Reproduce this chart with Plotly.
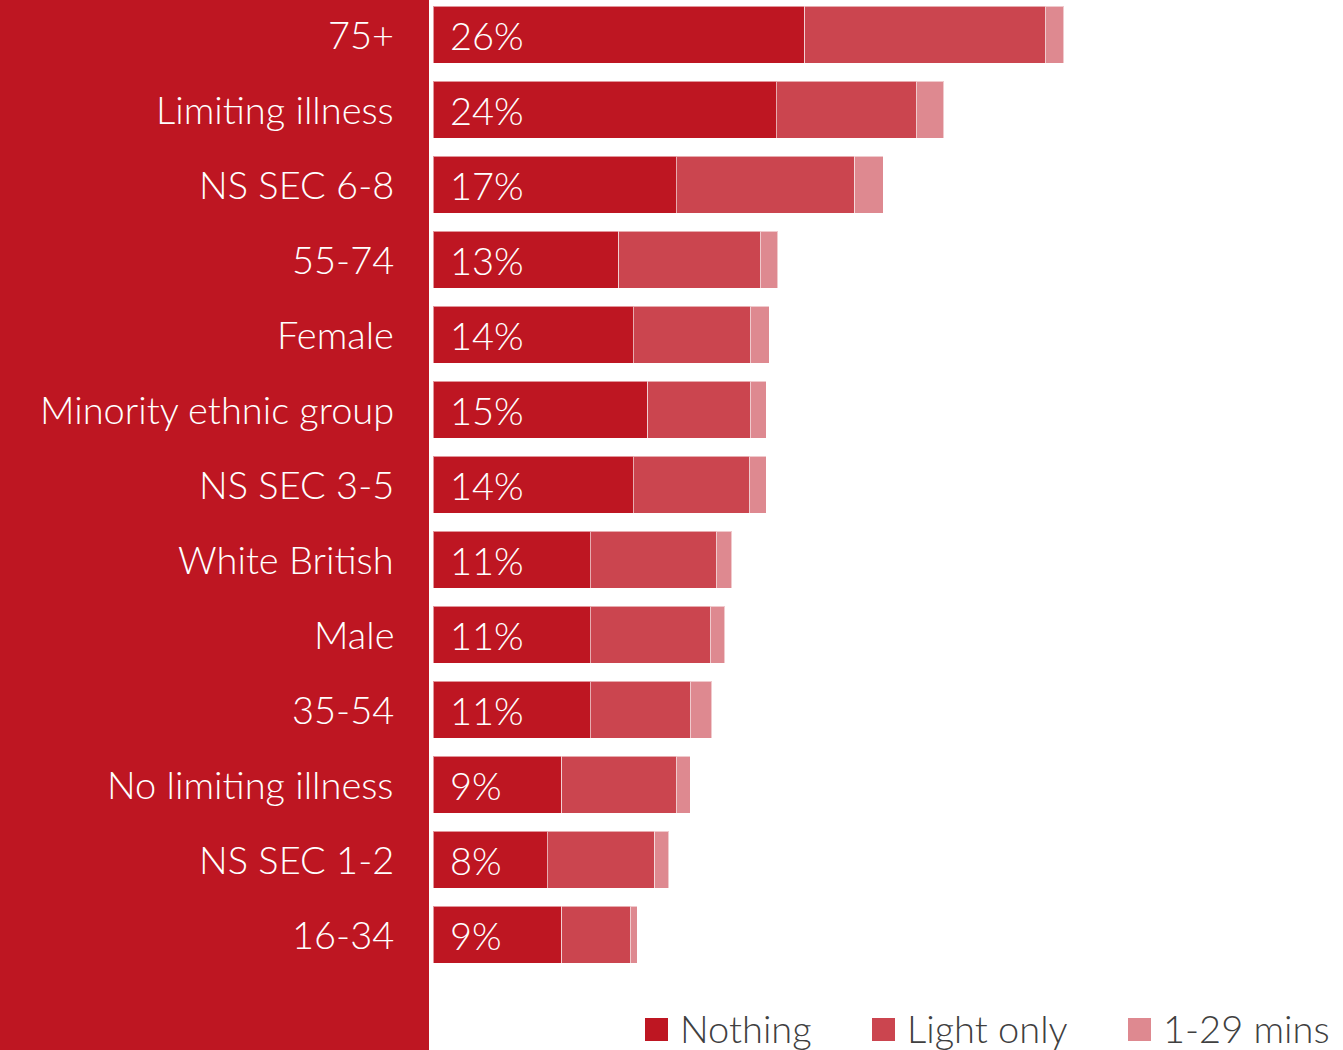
import plotly.graph_objects as go

# Groups, top to bottom
groups = ["75+", "Limiting illness", "NS SEC 6-8", "55-74", "Female",
          "Minority ethnic group", "NS SEC 3-5", "White British", "Male",
          "35-54", "No limiting illness", "NS SEC 1-2", "16-34"]

# Share of people (%) by category
nothing = [26, 24, 17, 13, 14, 15, 14, 11, 11, 11, 9, 8, 9]
light_only = [16.8, 9.8, 12.5, 9.9, 8.2, 7.2, 8.1, 8.8, 8.4, 7.0, 8.0, 7.5, 4.8]
mins_1_29 = [1.3, 1.9, 2.0, 1.2, 1.3, 1.1, 1.2, 1.1, 1.0, 1.5, 1.0, 1.0, 0.5]

series_names = ["Nothing", "Light only", "1-29 mins"]
series_colors = ["#BE1622", "#CB454F", "#DE8990"]
series_values = [nothing, light_only, mins_1_29]

FONT = "Lato"
FS = 38
FW = 300
W, H = 1343, 1050
ML, MB = 433, 75
PW, PH = W - ML, H - MB
PX_PER_PCT = 14.3

fig = go.Figure()
for name, color, vals in zip(series_names, series_colors, series_values):
    fig.add_trace(go.Bar(
        y=groups, x=vals, name=name, orientation="h",
        marker=dict(color=color, line=dict(color="rgba(255,255,255,0.55)", width=1)),
        showlegend=False, hoverinfo="x+name",
    ))

annotations = []
# Group labels in the red side panel
for g in groups:
    annotations.append(dict(
        x=-37 / PW, xref="paper", y=g, yref="y", text=g, showarrow=False,
        xanchor="right", yanchor="middle", yshift=1,
        font=dict(family=FONT, size=FS, color="white", weight=FW),
    ))
# Percentage labels for the "Nothing" segment
for g, v in zip(groups, nothing):
    annotations.append(dict(
        x=0, xref="x", y=g, yref="y", text=f"{v}%", showarrow=False,
        xanchor="left", yanchor="middle", xshift=15, yshift=0,
        font=dict(family=FONT, size=FS, color="white", weight=FW),
    ))

shapes = [
    # Red side panel behind the group labels
    dict(type="rect", xref="paper", yref="paper",
         x0=-ML / PW, x1=-4 / PW, y0=-MB / PH, y1=1.01,
         fillcolor="#BE1622", line=dict(width=0), layer="below"),
]

# Legend along the bottom
legend_sq_x = [645, 872, 1128]
for name, color, sx in zip(series_names, series_colors, legend_sq_x):
    shapes.append(dict(
        type="rect", xref="paper", yref="paper",
        x0=(sx - ML) / PW, x1=(sx + 23 - ML) / PW,
        y0=(PH - 1041) / PH, y1=(PH - 1018) / PH,
        fillcolor=color, line=dict(width=0),
    ))
    annotations.append(dict(
        x=(sx + 33 - ML) / PW, xref="paper", y=(PH - 1028) / PH, yref="paper",
        text=name, showarrow=False, xanchor="left", yanchor="middle",
        font=dict(family=FONT, size=FS, color="#404040", weight=FW),
    ))

fig.update_layout(
    barmode="stack", bargap=0.24,
    width=W, height=H,
    margin=dict(l=ML, r=0, t=0, b=MB, pad=0),
    paper_bgcolor="white", plot_bgcolor="white",
    xaxis=dict(range=[0, PW / PX_PER_PCT], visible=False, fixedrange=True),
    yaxis=dict(categoryorder="array", categoryarray=groups,
               range=[12.54, -0.46], visible=False, fixedrange=True),
    shapes=shapes, annotations=annotations,
    font=dict(family=FONT),
)

fig.write_html("out.html", config={"displayModeBar": False})
